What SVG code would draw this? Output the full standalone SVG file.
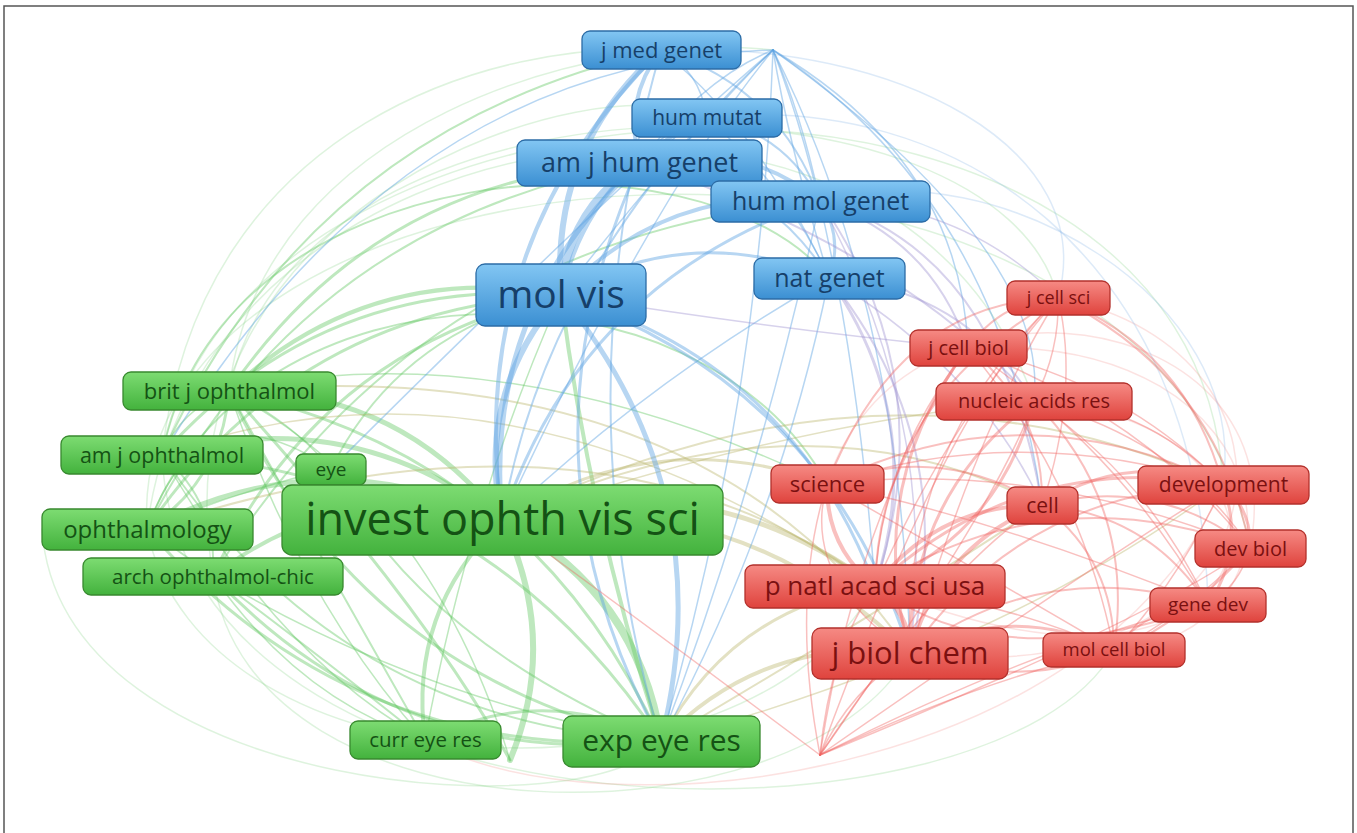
<svg xmlns="http://www.w3.org/2000/svg" width="1357" height="833" viewBox="0 0 1357 833">
<defs>
<linearGradient id="gb" x1="0" y1="0" x2="0" y2="1"><stop offset="0" stop-color="#82c6f3"/><stop offset="1" stop-color="#3b8fd2"/></linearGradient>
<linearGradient id="gg" x1="0" y1="0" x2="0" y2="1"><stop offset="0" stop-color="#7ddc72"/><stop offset="1" stop-color="#43b23d"/></linearGradient>
<linearGradient id="gr" x1="0" y1="0" x2="0" y2="1"><stop offset="0" stop-color="#f68a84"/><stop offset="1" stop-color="#df433d"/></linearGradient>
</defs>
<style>
.frame{fill:#fff;stroke:#555;stroke-width:1.5}
.e{fill:none;stroke-linecap:round}
.g{stroke:#5cc65c;stroke-opacity:.4}
.b{stroke:#5fa3e2;stroke-opacity:.45}
.r{stroke:#f0625e;stroke-opacity:.4}
.o{stroke:#b9b36a;stroke-opacity:.4}
.p{stroke:#9b8fd0;stroke-opacity:.4}
.gf{stroke:#7dd07d;stroke-opacity:.25}
.rf{stroke:#f28c88;stroke-opacity:.25}
.bf{stroke:#8dbbe8;stroke-opacity:.3}
.nb rect{fill:url(#gb);stroke:#2c6ca6;stroke-width:1.3}
.ng rect{fill:url(#gg);stroke:#38892f;stroke-width:1.3}
.nr rect{fill:url(#gr);stroke:#b3312c;stroke-width:1.3}
text{font-family:"Open Sans","Noto Sans","Liberation Sans",sans-serif;text-anchor:middle}
.nb text{fill:#163f69}
.ng text{fill:#145214}
.nr text{fill:#7a1010}
</style>
<rect class="frame" x="4" y="6" width="1349" height="840"/>
<g id="connectors">
<!-- faint outer arcs -->
<path class="e gf" stroke-width="1.5" d="M147,529 C200,100 900,0 1034,401"/>
<path class="e gf" stroke-width="1.5" d="M162,455 C250,30 1200,0 1223,485"/>
<path class="e gf" stroke-width="1.5" d="M229,391 C300,50 1000,60 1058,298"/>
<path class="e gf" stroke-width="1.5" d="M147,529 C120,120 1150,40 1250,548"/>
<path class="e gf" stroke-width="1.5" d="M213,576 C250,850 800,850 910,653"/>
<path class="e gf" stroke-width="1.5" d="M147,529 C200,800 750,820 875,586"/>
<path class="e gf" stroke-width="1.5" d="M162,455 C180,860 1000,860 1114,650"/>
<path class="e rf" stroke-width="1.5" d="M425,740 C600,840 1100,780 1223,485"/>
<path class="e rf" stroke-width="1.5" d="M1058,298 C1330,350 1300,700 910,653"/>
<path class="e rf" stroke-width="1.5" d="M1034,401 C1340,420 1290,760 875,586"/>
<path class="e rf" stroke-width="1.5" d="M968,348 C1300,330 1320,640 1114,650"/>
<path class="e rf" stroke-width="1.5" d="M827,484 C900,250 1300,300 1250,548"/>
<path class="e bf" stroke-width="1.5" d="M820,201 C1000,150 1250,300 1223,485"/>
<path class="e bf" stroke-width="1.5" d="M661,50 C900,40 1100,150 1058,298"/>
<path class="e bf" stroke-width="1.5" d="M707,118 C950,90 1200,250 1208,605"/>
<path class="e gf" stroke-width="1.5" d="M229,391 C260,120 600,30 773,50"/>
<path class="e gf" stroke-width="1.5" d="M162,455 C200,120 500,40 661,50"/>
<path class="e gf" stroke-width="1.5" d="M213,576 C150,200 600,60 707,118"/>
<path class="e gf" stroke-width="1.5" d="M42,529 C60,800 600,830 661,741"/>
<!-- green -->
<path class="e g" stroke-width="5" d="M229,391 Q398,387 502,520"/>
<path class="e g" stroke-width="5" d="M162,455 Q348,402 502,520"/>
<path class="e g" stroke-width="5" d="M147,529 Q322,436 502,520"/>
<path class="e g" stroke-width="4" d="M213,576 Q343,476 502,520"/>
<path class="e g" stroke-width="4" d="M425,740 Q408,611 502,520"/>
<path class="e g" stroke-width="3" d="M425,740 Q543,681 661,741"/>
<path class="e g" stroke-width="8" d="M502,520 Q637,591 661,741"/>
<path class="e g" stroke-width="3" d="M229,391 Q532,458 661,741"/>
<path class="e g" stroke-width="3" d="M162,455 Q483,473 661,741"/>
<path class="e g" stroke-width="3" d="M661,741 Q351,763 147,529"/>
<path class="e g" stroke-width="3" d="M661,741 Q358,674 229,391"/>
<path class="e g" stroke-width="2" d="M661,741 Q340,723 162,455"/>
<path class="e g" stroke-width="3" d="M661,741 Q396,771 213,576"/>
<path class="e g" stroke-width="4" d="M229,391 Q371,260 561,295"/>
<path class="e g" stroke-width="3" d="M162,455 Q322,275 561,295"/>
<path class="e g" stroke-width="3" d="M147,529 Q296,309 561,295"/>
<path class="e g" stroke-width="3" d="M213,576 Q317,349 561,295"/>
<path class="e g" stroke-width="3" d="M229,391 Q222,480 147,529"/>
<path class="e g" stroke-width="2" d="M162,455 Q218,503 213,576"/>
<path class="e g" stroke-width="3" d="M229,391 Q378,174 640,163"/>
<path class="e g" stroke-width="2" d="M147,529 Q302,223 640,163"/>
<path class="e g" stroke-width="2" d="M162,455 Q310,128 661,50"/>
<path class="e g" stroke-width="2" d="M213,576 Q423,237 820,201"/>
<path class="e g" stroke-width="2" d="M162,455 C220,150 700,120 829,278"/>
<path class="e g" stroke-width="2" d="M147,529 C250,250 700,250 827,484"/>
<path class="e g" stroke-width="2" d="M331,469 Q420,640 661,741"/>
<path class="e g" stroke-width="2" d="M331,469 Q400,330 561,295"/>
<path class="e g" stroke-width="2" d="M425,740 Q300,520 229,391"/>
<path class="e g" stroke-width="2" d="M425,740 Q250,600 147,529"/>
<path class="e g" stroke-width="6" d="M502,520 Q560,640 510,760"/>
<path class="e g" stroke-width="3" d="M229,391 Q420,600 510,760"/>
<path class="e g" stroke-width="4" d="M561,295 Q590,520 661,741"/>
<path class="e g" stroke-width="1.5" d="M229,391 Q300,600 425,740"/>
<path class="e g" stroke-width="1.5" d="M162,455 Q280,660 425,740"/>
<path class="e g" stroke-width="1.5" d="M213,576 Q300,700 425,740"/>
<path class="e g" stroke-width="1.5" d="M229,391 Q180,410 162,455"/>
<path class="e g" stroke-width="1.5" d="M331,469 Q290,420 229,391"/>
<path class="e g" stroke-width="1.5" d="M331,469 Q240,490 147,529"/>
<path class="e g" stroke-width="1.5" d="M213,576 Q420,700 661,741"/>
<path class="e g" stroke-width="1.5" d="M229,391 Q500,330 827,484"/>
<path class="e g" stroke-width="1.5" d="M147,529 Q200,380 331,469"/>
<path class="e g" stroke-width="1.5" d="M425,740 Q470,500 561,295"/>
<path class="e g" stroke-width="1.5" d="M510,760 Q430,500 229,391"/>
<!-- olive / cross -->
<path class="e o" stroke-width="5" d="M502,520 Q705,460 875,586"/>
<path class="e o" stroke-width="4" d="M502,520 Q739,485 910,653"/>
<path class="e o" stroke-width="3" d="M502,520 Q655,421 827,484"/>
<path class="e o" stroke-width="4" d="M661,741 Q763,635 910,653"/>
<path class="e o" stroke-width="3" d="M661,741 Q729,610 875,586"/>
<path class="e o" stroke-width="2" d="M502,520 Q800,380 1042,505"/>
<path class="e o" stroke-width="2" d="M502,520 Q880,330 1223,485"/>
<path class="e o" stroke-width="2" d="M147,529 Q600,380 875,586"/>
<path class="e o" stroke-width="2" d="M229,391 Q700,350 910,653"/>
<path class="e o" stroke-width="2" d="M661,741 Q900,600 1042,505"/>
<path class="e o" stroke-width="1.5" d="M162,455 Q500,330 875,586"/>
<path class="e o" stroke-width="1.5" d="M502,520 Q800,420 1034,401"/>
<path class="e o" stroke-width="1.5" d="M661,741 Q1000,650 1223,485"/>
<!-- blue -->
<path class="e b" stroke-width="6" d="M502,520 Q475,393 561,295"/>
<path class="e b" stroke-width="5" d="M502,520 Q482,307 640,163"/>
<path class="e b" stroke-width="5" d="M561,295 Q723,493 661,741"/>
<path class="e b" stroke-width="8" d="M561,295 Q567,209 640,163"/>
<path class="e b" stroke-width="6" d="M561,295 Q550,147 661,50"/>
<path class="e b" stroke-width="4" d="M561,295 Q667,183 820,201"/>
<path class="e b" stroke-width="4" d="M561,295 Q590,170 707,118"/>
<path class="e b" stroke-width="3" d="M561,295 Q691,220 829,278"/>
<path class="e b" stroke-width="4" d="M640,163 Q740,137 820,201"/>
<path class="e b" stroke-width="4" d="M640,163 Q622,101 661,50"/>
<path class="e b" stroke-width="3" d="M820,201 Q844,237 829,278"/>
<path class="e b" stroke-width="4" d="M502,520 Q464,245 661,50"/>
<path class="e b" stroke-width="3" d="M661,741 Q506,457 640,163"/>
<path class="e b" stroke-width="3" d="M502,520 Q581,281 820,201"/>
<path class="e b" stroke-width="2" d="M640,163 Q763,173 829,278"/>
<path class="e b" stroke-width="2" d="M707,118 Q784,131 820,201"/>
<path class="e b" stroke-width="2" d="M661,50 Q778,86 820,201"/>
<path class="e b" stroke-width="3" d="M561,295 Q825,387 910,653"/>
<path class="e b" stroke-width="3" d="M561,295 Q791,362 875,586"/>
<path class="e b" stroke-width="1.5" d="M661,50 Q700,70 707,118"/>
<path class="e b" stroke-width="1.5" d="M661,50 Q760,130 829,278"/>
<path class="e b" stroke-width="1.5" d="M707,118 Q790,190 829,278"/>
<path class="e b" stroke-width="1.5" d="M707,118 Q660,130 640,163"/>
<path class="e b" stroke-width="2" d="M707,118 Q540,300 502,520"/>
<path class="e b" stroke-width="2" d="M661,50 Q560,400 661,741"/>
<path class="e b" stroke-width="1.5" d="M829,278 Q650,380 502,520"/>
<path class="e b" stroke-width="1.5" d="M820,201 Q760,480 661,741"/>
<path class="e b" stroke-width="1.5" d="M829,278 Q780,520 661,741"/>
<path class="e b" stroke-width="1.5" d="M773,50 Q700,120 561,295"/>
<path class="e b" stroke-width="1.5" d="M773,50 Q700,80 640,163"/>
<path class="e b" stroke-width="1.5" d="M773,50 Q800,110 820,201"/>
<path class="e b" stroke-width="1.5" d="M773,50 Q790,150 829,278"/>
<path class="e b" stroke-width="1.5" d="M773,50 Q650,200 502,520"/>
<path class="e b" stroke-width="1.5" d="M773,50 Q850,250 875,586"/>
<path class="e b" stroke-width="1.5" d="M773,50 Q900,300 910,653"/>
<path class="e b" stroke-width="1.5" d="M773,50 Q760,400 661,741"/>
<path class="e b" stroke-width="1.5" d="M773,50 Q1000,200 1042,505"/>
<path class="e b" stroke-width="1.5" d="M773,50 Q400,60 162,455"/>
<path class="e b" stroke-width="1.5" d="M773,50 Q730,90 707,118"/>
<path class="e b" stroke-width="1.5" d="M773,50 Q960,160 968,348"/>
<path class="e b" stroke-width="1.5" d="M773,50 Q600,200 331,469"/>
<path class="e b" stroke-width="1.5" d="M773,50 Q1050,250 1034,401"/>
<!-- purple cross -->
<path class="e p" stroke-width="2" d="M820,201 Q931,238 968,348"/>
<path class="e p" stroke-width="3" d="M829,278 Q929,421 875,586"/>
<path class="e p" stroke-width="2" d="M829,278 Q963,445 910,653"/>
<path class="e p" stroke-width="2" d="M820,201 Q944,380 875,586"/>
<path class="e p" stroke-width="2" d="M829,278 Q962,288 1034,401"/>
<path class="e p" stroke-width="2" d="M820,201 Q1000,250 1042,505"/>
<path class="e p" stroke-width="2" d="M640,163 Q900,250 1034,401"/>
<path class="e p" stroke-width="1.5" d="M820,201 Q960,200 1058,298"/>
<path class="e p" stroke-width="1.5" d="M829,278 Q980,370 1042,505"/>
<path class="e p" stroke-width="1.5" d="M820,201 Q940,420 910,653"/>
<path class="e p" stroke-width="1.5" d="M561,295 Q780,330 968,348"/>
<!-- red -->
<path class="e r" stroke-width="5" d="M875,586 Q909,611 910,653"/>
<path class="e r" stroke-width="4" d="M875,586 Q826,547 827,484"/>
<path class="e r" stroke-width="4" d="M875,586 Q938,504 1042,505"/>
<path class="e r" stroke-width="4" d="M910,653 Q939,546 1042,505"/>
<path class="e r" stroke-width="3" d="M910,653 Q909,496 1034,401"/>
<path class="e r" stroke-width="3" d="M910,653 Q1011,601 1114,650"/>
<path class="e r" stroke-width="3" d="M910,653 Q863,486 968,348"/>
<path class="e r" stroke-width="2" d="M910,653 Q1024,491 1223,485"/>
<path class="e r" stroke-width="3" d="M1042,505 Q1127,450 1223,485"/>
<path class="e r" stroke-width="2" d="M1042,505 Q1157,475 1250,548"/>
<path class="e r" stroke-width="3" d="M1223,485 Q1252,510 1250,548"/>
<path class="e r" stroke-width="3" d="M1223,485 Q1246,549 1208,605"/>
<path class="e r" stroke-width="2" d="M1042,505 Q1150,514 1208,605"/>
<path class="e r" stroke-width="2" d="M1114,650 Q1150,604 1208,605"/>
<path class="e r" stroke-width="2" d="M1042,505 Q1114,559 1114,650"/>
<path class="e r" stroke-width="2" d="M968,348 Q1001,301 1058,298"/>
<path class="e r" stroke-width="2" d="M968,348 Q1044,408 1042,505"/>
<path class="e r" stroke-width="2" d="M1058,298 Q1187,350 1223,485"/>
<path class="e r" stroke-width="2" d="M1058,298 Q1216,375 1250,548"/>
<path class="e r" stroke-width="3" d="M1034,401 Q1000,533 875,586"/>
<path class="e r" stroke-width="2" d="M1034,401 Q1136,505 1114,650"/>
<path class="e r" stroke-width="2" d="M827,484 Q940,441 1042,505"/>
<path class="e r" stroke-width="2" d="M827,484 Q1025,386 1223,485"/>
<path class="e r" stroke-width="3" d="M875,586 Q1024,449 1223,485"/>
<path class="e r" stroke-width="2" d="M875,586 Q1053,473 1250,548"/>
<path class="e r" stroke-width="2" d="M910,653 Q1047,554 1208,605"/>
<path class="e r" stroke-width="2" d="M875,586 Q1000,680 1208,605"/>
<path class="e r" stroke-width="2" d="M910,653 Q1100,720 1250,548"/>
<path class="e r" stroke-width="2" d="M827,484 Q900,300 1058,298"/>
<path class="e r" stroke-width="2" d="M875,586 Q880,400 1058,298"/>
<path class="e r" stroke-width="1.5" d="M1058,298 Q900,450 910,653"/>
<path class="e r" stroke-width="1.5" d="M1058,298 Q950,420 875,586"/>
<path class="e r" stroke-width="1.5" d="M968,348 Q880,460 875,586"/>
<path class="e r" stroke-width="1.5" d="M968,348 Q1120,380 1223,485"/>
<path class="e r" stroke-width="1.5" d="M968,348 Q1150,420 1250,548"/>
<path class="e r" stroke-width="1.5" d="M968,348 Q1080,480 1114,650"/>
<path class="e r" stroke-width="1.5" d="M1034,401 Q1140,400 1223,485"/>
<path class="e r" stroke-width="1.5" d="M1034,401 Q1180,440 1250,548"/>
<path class="e r" stroke-width="1.5" d="M1034,401 Q1150,480 1208,605"/>
<path class="e r" stroke-width="1.5" d="M827,484 Q800,580 910,653"/>
<path class="e r" stroke-width="1.5" d="M827,484 Q960,560 1114,650"/>
<path class="e r" stroke-width="1.5" d="M827,484 Q1000,520 1208,605"/>
<path class="e r" stroke-width="1.5" d="M827,484 Q1040,460 1250,548"/>
<path class="e r" stroke-width="1.5" d="M1042,505 Q1080,390 1058,298"/>
<path class="e r" stroke-width="1.5" d="M1223,485 Q1180,580 1114,650"/>
<path class="e r" stroke-width="1.5" d="M1250,548 Q1180,620 1114,650"/>
<path class="e r" stroke-width="1.5" d="M1250,548 Q1240,585 1208,605"/>
<path class="e r" stroke-width="1.5" d="M875,586 Q1000,600 1114,650"/>
<path class="e r" stroke-width="1.5" d="M910,653 Q980,420 1058,298"/>
<path class="e r" stroke-width="1.5" d="M1034,401 Q1060,350 1058,298"/>
<path class="e r" stroke-width="1.5" d="M1208,605 Q1120,450 968,348"/>
<path class="e r" stroke-width="1.5" d="M1223,485 Q1020,420 827,484"/>
<path class="e r" stroke-width="1.5" d="M820,755 Q850,690 910,653"/>
<path class="e r" stroke-width="1.5" d="M820,755 Q830,650 875,586"/>
<path class="e r" stroke-width="1.5" d="M820,755 Q950,560 1042,505"/>
<path class="e r" stroke-width="1.5" d="M820,755 Q1100,560 1223,485"/>
<path class="e r" stroke-width="1.5" d="M820,755 Q980,680 1114,650"/>
<path class="e r" stroke-width="1.5" d="M820,755 Q1050,640 1208,605"/>
<path class="e r" stroke-width="1.5" d="M820,755 Q790,600 827,484"/>
<path class="e r" stroke-width="1.5" d="M820,755 Q860,500 968,348"/>
<path class="e r" stroke-width="1.5" d="M820,755 Q640,620 502,520"/>
<path class="e r" stroke-width="1.5" d="M820,755 Q950,400 1058,298"/>
<path class="e r" stroke-width="1.5" d="M820,755 Q1000,500 1034,401"/>
<path class="e r" stroke-width="1.5" d="M820,755 Q1150,620 1250,548"/>
</g>
<g id="n-jmg" class="nb"><rect x="582" y="31" width="159" height="38" rx="8"/><text x="661.5" y="57.5" font-size="22">j med genet</text></g>
<g id="n-hm" class="nb"><rect x="632" y="99" width="150" height="38" rx="8"/><text x="707" y="125" font-size="21">hum mutat</text></g>
<g id="n-ajhg" class="nb"><rect x="517" y="140" width="245" height="46" rx="8"/><text x="639.5" y="172" font-size="27">am j hum genet</text></g>
<g id="n-hmg" class="nb"><rect x="711" y="181" width="219" height="41" rx="8"/><text x="820.5" y="210" font-size="25">hum mol genet</text></g>
<g id="n-mv" class="nb"><rect x="476" y="264" width="170" height="62" rx="9"/><text x="561" y="308" font-size="39">mol vis</text></g>
<g id="n-ng" class="nb"><rect x="754" y="258" width="151" height="41" rx="8"/><text x="829.5" y="287" font-size="25">nat genet</text></g>
<g id="n-jcs" class="nr"><rect x="1007" y="281" width="103" height="34" rx="8"/><text x="1058.5" y="304" font-size="18">j cell sci</text></g>
<g id="n-jcb" class="nr"><rect x="910" y="330" width="117" height="36" rx="8"/><text x="968.5" y="355" font-size="20">j cell biol</text></g>
<g id="n-nar" class="nr"><rect x="936" y="383" width="196" height="37" rx="8"/><text x="1034" y="408" font-size="20">nucleic acids res</text></g>
<g id="n-sci" class="nr"><rect x="771" y="465" width="113" height="38" rx="8"/><text x="827.5" y="491.5" font-size="22">science</text></g>
<g id="n-cell" class="nr"><rect x="1007" y="487" width="71" height="37" rx="8"/><text x="1042.5" y="512.5" font-size="21">cell</text></g>
<g id="n-dev" class="nr"><rect x="1138" y="466" width="171" height="38" rx="8"/><text x="1223.5" y="492" font-size="21">development</text></g>
<g id="n-db" class="nr"><rect x="1195" y="530" width="111" height="37" rx="8"/><text x="1250.5" y="555.5" font-size="20">dev biol</text></g>
<g id="n-pnas" class="nr"><rect x="745" y="565" width="260" height="43" rx="8"/><text x="875" y="595" font-size="26">p natl acad sci usa</text></g>
<g id="n-gd" class="nr"><rect x="1150" y="588" width="116" height="34" rx="8"/><text x="1208" y="611" font-size="19">gene dev</text></g>
<g id="n-jbc" class="nr"><rect x="812" y="628" width="196" height="51" rx="9"/><text x="910" y="663.5" font-size="31">j biol chem</text></g>
<g id="n-mcb" class="nr"><rect x="1043" y="633" width="142" height="34" rx="8"/><text x="1114" y="656" font-size="18.5">mol cell biol</text></g>
<g id="n-bjo" class="ng"><rect x="123" y="372" width="213" height="38" rx="8"/><text x="229.5" y="398.5" font-size="22">brit j ophthalmol</text></g>
<g id="n-ajo" class="ng"><rect x="61" y="436" width="202" height="38" rx="8"/><text x="162" y="462.5" font-size="21.5">am j ophthalmol</text></g>
<g id="n-eye" class="ng"><rect x="296" y="454" width="70" height="31" rx="7"/><text x="331" y="476" font-size="19">eye</text></g>
<g id="n-oph" class="ng"><rect x="42" y="509" width="211" height="41" rx="8"/><text x="147.5" y="537.5" font-size="24">ophthalmology</text></g>
<g id="n-arch" class="ng"><rect x="83" y="558" width="260" height="37" rx="8"/><text x="213" y="583.5" font-size="20.5">arch ophthalmol-chic</text></g>
<g id="n-iovs" class="ng"><rect x="282" y="485" width="441" height="70" rx="10"/><text x="502.5" y="535" font-size="45">invest ophth vis sci</text></g>
<g id="n-cer" class="ng"><rect x="350" y="721" width="151" height="38" rx="8"/><text x="425.5" y="746.5" font-size="20.5">curr eye res</text></g>
<g id="n-eer" class="ng"><rect x="563" y="716" width="197" height="51" rx="9"/><text x="661.5" y="751" font-size="30">exp eye res</text></g>
</svg>
